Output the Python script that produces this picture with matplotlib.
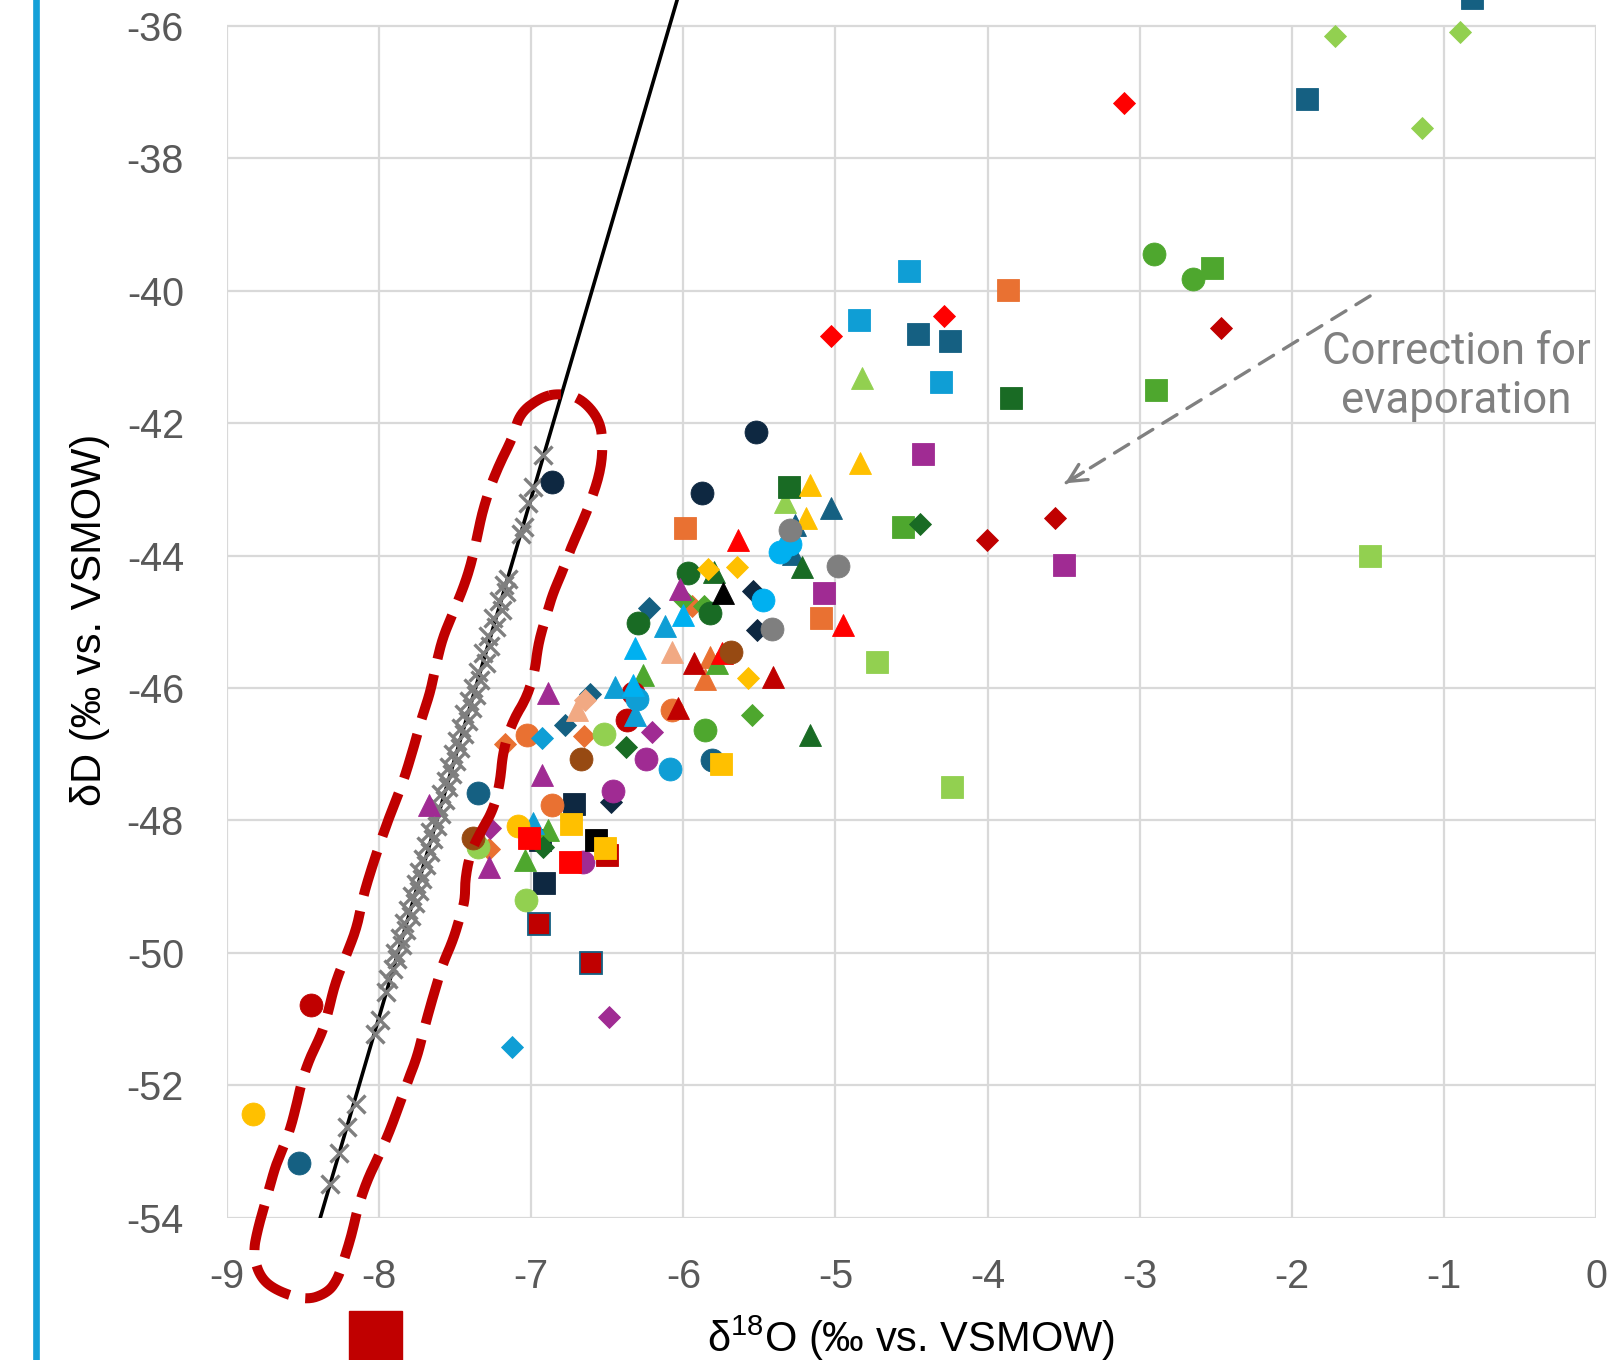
import numpy as np
import matplotlib
matplotlib.use("Agg")
import matplotlib.pyplot as plt
from matplotlib.patches import Rectangle
from matplotlib.lines import Line2D

plt.rcParams['font.family'] = ['Liberation Sans', 'DejaVu Sans']
plt.rcParams['axes.unicode_minus'] = False
plt.rcParams['mathtext.fontset'] = 'custom'
plt.rcParams['mathtext.rm'] = 'Liberation Sans'

# ---------------- axis ticks ----------------
x_ticks = [-9, -8, -7, -6, -5, -4, -3, -2, -1, 0]
y_ticks = [-54, -52, -50, -48, -46, -44, -42, -40, -38, -36]
x_label = r'δ$\mathregular{^{18}}$O (‰ vs. VSMOW)'
y_label = 'δD (‰ vs. VSMOW)'

# ---------------- local meteoric water line ----------------
lmwl_slope = 7.84
lmwl_intercept = 11.75
lmwl_dD_range = [-54.0, -35.0]

# ---------------- precipitation samples (grey crosses) ----------------
precip_d18o = [-8.323, -8.262, -8.211, -8.150, -8.029, -7.994,
               -7.955, -7.940, -7.910, -7.880, -7.895, -7.850, -7.865, -7.820, -7.838, -7.792,
               -7.810, -7.765, -7.785, -7.740, -7.755, -7.720, -7.735, -7.690, -7.710, -7.668,
               -7.690, -7.645, -7.665, -7.620, -7.640, -7.596, -7.615, -7.570, -7.590, -7.545,
               -7.560, -7.520, -7.540, -7.495, -7.515, -7.468, -7.490, -7.443, -7.462, -7.417,
               -7.440, -7.392, -7.412, -7.366, -7.385, -7.335, -7.350, -7.300, -7.318, -7.268,
               -7.285, -7.232, -7.250, -7.195, -7.215, -7.168, -7.180, -7.155,
               -7.065, -7.050, -7.020, -6.990, -6.920]
precip_dD = [-53.50, -53.03, -52.63, -52.29, -51.22, -51.02,
             -50.60, -50.40, -50.25, -50.10, -50.00, -49.88, -49.78, -49.65, -49.55, -49.45,
             -49.35, -49.25, -49.15, -49.06, -48.96, -48.88, -48.78, -48.68, -48.58, -48.48,
             -48.38, -48.28, -48.18, -48.08, -47.98, -47.90, -47.80, -47.70, -47.60, -47.50,
             -47.40, -47.30, -47.20, -47.10, -47.00, -46.90, -46.80, -46.70, -46.60, -46.50,
             -46.40, -46.30, -46.20, -46.10, -46.00, -45.88, -45.76, -45.62, -45.48, -45.36,
             -45.22, -45.08, -44.95, -44.82, -44.68, -44.55, -44.45, -44.35,
             -43.68, -43.57, -43.21, -42.96, -42.48]

# ---------------- water samples (d18O, dD) ----------------
navy_circles = ([-5.524, -5.875, -6.865], [-42.13, -43.06, -42.89])
navy_squares = ([-6.719, -6.942, -6.916], [-47.76, -48.29, -48.95])
navy_diamonds = ([-5.540, -5.518, -6.477], [-44.53, -45.12, -47.73])

teal_circles = ([-5.813, -7.348, -8.525], [-47.09, -47.58, -53.18])
teal_squares = ([-0.816, -1.901, -4.455, -4.245], [-35.58, -37.10, -40.66, -40.76])
teal_triangles = ([-5.029, -5.266, -5.277], [-43.29, -43.54, -43.97])
teal_diamonds = ([-6.226, -6.613, -6.778], [-44.80, -46.09, -46.56])

orange_squares = ([-3.865, -5.989, -5.095], [-39.99, -43.58, -44.95])
orange_circles = ([-6.076, -7.030, -6.865], [-46.34, -46.71, -47.77])
orange_diamonds = ([-5.945, -6.651, -7.172, -7.276], [-44.77, -46.73, -46.84, -48.44])
orange_triangles = ([-5.824, -5.857], [-45.53, -45.86])

green_circles = ([-2.905, -2.647, -5.857], [-39.44, -39.82, -46.64])
green_squares = ([-2.522, -2.892, -4.558], [-39.66, -41.50, -43.57])
green_triangles = ([-5.780, -6.263, -6.887, -7.041], [-45.63, -45.81, -48.15, -48.60])
green_diamonds = ([-6.000, -5.862, -5.546], [-44.66, -44.76, -46.41])

lightgreen_diamonds = ([-1.715, -0.896, -1.145], [-36.15, -36.09, -37.54])
lightgreen_squares = ([-4.729, -4.235, -1.483], [-45.61, -47.49, -44.00])
lightgreen_triangles = ([-4.827, -5.331], [-41.32, -43.19])
lightgreen_circles = ([-6.519, -7.036, -7.348], [-46.69, -49.21, -48.40])

darkgreen_squares = ([-3.845, -5.305], [-41.62, -42.96])
darkgreen_triangles = ([-5.222, -5.798, -5.167], [-44.17, -44.25, -46.71])
darkgreen_diamonds = ([-4.444, -6.377, -6.924], [-43.52, -46.89, -48.40])
darkgreen_circles = ([-5.971, -5.824, -6.296], [-44.27, -44.87, -45.02])

red_diamonds = ([-3.104, -4.286, -5.029], [-37.17, -40.38, -40.69])
red_triangles = ([-5.638, -4.948, -5.748], [-43.77, -45.05, -45.48])
red_squares = ([-7.014, -6.745], [-48.26, -48.63])

darkred_diamonds = ([-2.465, -4.005, -3.556], [-40.56, -43.77, -43.43])
darkred_triangles = ([-5.930, -5.408, -6.033], [-45.63, -45.83, -46.31])
darkred_circles = ([-6.329, -6.372, -8.450], [-46.08, -46.49, -50.79])
darkred_squares = ([-6.504], [-48.52])
darkred_squares_edged = ([-6.947, -6.607], [-49.57, -50.15])

skyblue_squares = ([-4.514, -4.845, -4.304], [-39.70, -40.45, -41.38])
skyblue_triangles = ([-6.120, -6.449, -6.318, -6.990], [-45.07, -45.98, -46.41, -48.04])
skyblue_circles = ([-6.302, -6.087], [-46.16, -47.23])
skyblue_diamonds = ([-6.931, -7.128], [-46.76, -51.42])

brightblue_circles = ([-5.298, -5.364, -5.474], [-43.82, -43.94, -44.67])
brightblue_triangles = ([-6.004, -6.318, -6.329], [-44.90, -45.40, -45.96])

yellow_triangles = ([-4.836, -5.167, -5.195], [-42.61, -42.94, -43.44])
yellow_diamonds = ([-5.840, -5.649, -5.577], [-44.21, -44.17, -45.85])
yellow_circles = ([-7.085, -8.831], [-48.09, -52.43])
yellow_squares = ([-5.754, -6.738, -6.517], [-47.15, -48.06, -48.42])

purple_squares = ([-4.426, -5.075, -3.495], [-42.47, -44.57, -44.15])
purple_triangles = ([-6.022, -6.887, -6.931, -7.670, -7.276], [-44.50, -46.08, -47.32, -47.77, -48.70])
purple_diamonds = ([-6.208, -7.271, -6.490], [-46.66, -48.12, -50.97])
purple_circles = ([-6.245, -6.460, -6.657], [-47.08, -47.55, -48.63])

gray_circles = ([-5.298, -4.985, -5.419], [-43.62, -44.16, -45.11])
black_triangles = ([-5.737], [-44.57])
black_squares = ([-6.576], [-48.30])
brown_circles = ([-5.686, -6.675, -7.381], [-45.46, -47.08, -48.27])
peach_triangles = ([-6.076, -6.701], [-45.45, -46.34])
peach_diamonds = ([-6.646], [-46.18])

# ---------------- annotation: outline around precipitation (d18O, dD) ----------------
outline_d18o = [-6.830, -6.942, -7.074, -7.120, -7.205, -7.271, -7.323, -7.350, -7.389, -7.435,
                -7.514, -7.580, -7.619, -7.665, -7.711, -7.764, -7.843, -7.909, -7.994, -8.060,
                -8.106, -8.145, -8.211, -8.290, -8.336, -8.375, -8.454, -8.507, -8.540, -8.586,
                -8.638, -8.684, -8.730, -8.796, -8.829, -8.783, -8.678, -8.481, -8.343, -8.277,
                -8.231, -8.178, -8.145, -8.080, -7.994, -7.928, -7.863, -7.817, -7.751, -7.711,
                -7.665, -7.619, -7.580, -7.514, -7.468, -7.435, -7.435, -7.402, -7.337, -7.251,
                -7.205, -7.185, -7.120, -7.028, -6.975, -6.962, -6.942, -6.896, -6.857, -6.791,
                -6.745, -6.666, -6.613, -6.548, -6.528, -6.548, -6.679, -6.830]
outline_dD = [-41.55, -41.62, -41.85, -42.21, -42.60, -42.97, -43.36, -43.66, -44.07, -44.42,
              -44.87, -45.23, -45.58, -46.08, -46.38, -46.83, -47.43, -47.80, -48.34, -48.80,
              -49.16, -49.61, -50.01, -50.46, -50.91, -51.21, -51.58, -51.93, -52.27, -52.68,
              -52.98, -53.24, -53.63, -54.15, -54.54, -54.90, -55.10, -55.25, -55.14, -54.95,
              -54.64, -54.24, -53.89, -53.44, -53.03, -52.68, -52.27, -51.97, -51.58, -51.21,
              -50.82, -50.46, -50.16, -49.81, -49.46, -49.20, -48.90, -48.50, -48.19, -47.85,
              -47.44, -46.94, -46.49, -46.14, -45.73, -45.47, -45.23, -44.87, -44.57, -44.22,
              -43.92, -43.51, -43.21, -42.76, -42.36, -41.95, -41.61, -41.55]

evap_arrow_start = (-1.485, -40.08)
evap_arrow_end = (-3.490, -42.91)
evap_text = 'Correction for\nevaporation'
evap_text_pos = (-0.92, -41.30)

# ---------------- colours ----------------
C_NAVY = '#0E2841'
C_TEAL = '#156082'
C_ORANGE = '#E97132'
C_GREEN = '#4EA72E'
C_LGREEN = '#92D050'
C_DGREEN = '#196B24'
C_RED = '#FF0000'
C_DRED = '#C00000'
C_SKY = '#0F9ED5'
C_BBLUE = '#00B0F0'
C_YELLOW = '#FFC000'
C_PURPLE = '#A02B93'
C_GRAY = '#7F7F7F'
C_BLACK = '#000000'
C_BROWN = '#974A12'
C_PEACH = '#F1A983'

series = [
    (navy_circles, C_NAVY, 'o'), (navy_squares, C_NAVY, 's'), (navy_diamonds, C_NAVY, 'D'),
    (teal_circles, C_TEAL, 'o'), (teal_squares, C_TEAL, 's'), (teal_triangles, C_TEAL, '^'),
    (teal_diamonds, C_TEAL, 'D'),
    (orange_squares, C_ORANGE, 's'), (orange_circles, C_ORANGE, 'o'), (orange_diamonds, C_ORANGE, 'D'),
    (orange_triangles, C_ORANGE, '^'),
    (green_circles, C_GREEN, 'o'), (green_squares, C_GREEN, 's'), (green_triangles, C_GREEN, '^'),
    (green_diamonds, C_GREEN, 'D'),
    (lightgreen_diamonds, C_LGREEN, 'D'), (lightgreen_squares, C_LGREEN, 's'),
    (lightgreen_triangles, C_LGREEN, '^'), (lightgreen_circles, C_LGREEN, 'o'),
    (darkgreen_squares, C_DGREEN, 's'), (darkgreen_triangles, C_DGREEN, '^'),
    (darkgreen_diamonds, C_DGREEN, 'D'), (darkgreen_circles, C_DGREEN, 'o'),
    (red_diamonds, C_RED, 'D'), (red_triangles, C_RED, '^'),
    (darkred_diamonds, C_DRED, 'D'), (darkred_triangles, C_DRED, '^'), (darkred_circles, C_DRED, 'o'),
    (skyblue_squares, C_SKY, 's'), (skyblue_triangles, C_SKY, '^'), (skyblue_circles, C_SKY, 'o'),
    (skyblue_diamonds, C_SKY, 'D'),
    (brightblue_circles, C_BBLUE, 'o'), (brightblue_triangles, C_BBLUE, '^'),
    (yellow_triangles, C_YELLOW, '^'), (yellow_diamonds, C_YELLOW, 'D'), (yellow_circles, C_YELLOW, 'o'),
    (purple_squares, C_PURPLE, 's'), (purple_triangles, C_PURPLE, '^'), (purple_diamonds, C_PURPLE, 'D'),
    (purple_circles, C_PURPLE, 'o'),
    (gray_circles, C_GRAY, 'o'), (black_triangles, C_BLACK, '^'), (black_squares, C_BLACK, 's'),
    (brown_circles, C_BROWN, 'o'), (peach_triangles, C_PEACH, '^'), (peach_diamonds, C_PEACH, 'D'),
    (darkred_squares, C_DRED, 's'), (yellow_squares, C_YELLOW, 's'), (red_squares, C_RED, 's'),
]
marker_sizes = {'o': 16.5, 's': 16.0, '^': 16.5, 'D': 11.2}


def chaikin(xs, ys, n_iter=3):
    """Corner-cutting smoothing of a closed hand-drawn outline (drawing only)."""
    p = np.column_stack([xs, ys])[:-1]
    for _ in range(n_iter):
        q = np.roll(p, -1, axis=0)
        p = np.vstack([np.column_stack([0.75 * p[:, 0] + 0.25 * q[:, 0], 0.75 * p[:, 1] + 0.25 * q[:, 1]]),
                       np.column_stack([0.25 * p[:, 0] + 0.75 * q[:, 0], 0.25 * p[:, 1] + 0.75 * q[:, 1]])])
        n = len(p) // 2
        inter = np.empty_like(p)
        inter[0::2] = p[:n]
        inter[1::2] = p[n:]
        p = inter
    p = np.vstack([p, p[:1]])
    return p[:, 0], p[:, 1]


# ---------------- figure ----------------
W, H = 1618, 1360
fig = plt.figure(figsize=(W / 100, H / 100), dpi=100)
ax_left, ax_right = 227 / W, 1596 / W
ax_bottom = 1 - 1217.6 / H
ax = fig.add_axes([ax_left, ax_bottom, ax_right - ax_left, 1 - ax_bottom])
ax.set_xlim(-9, 0)
ax.set_ylim(-54, -35.61)
for s in ax.spines.values():
    s.set_visible(False)

grid_c = '#D9D9D9'
ax.hlines(y_ticks, x_ticks[0], x_ticks[-1], colors=grid_c, lw=1.6, zorder=0)
ax.vlines(x_ticks, y_ticks[0], y_ticks[-1], colors=grid_c, lw=1.6, zorder=0)

ax.set_xticks(x_ticks)
ax.set_xticklabels([str(v) for v in x_ticks])
ax.set_yticks(y_ticks)
ax.set_yticklabels([str(v) for v in y_ticks])
ax.tick_params(axis='both', length=0, labelsize=28.5, labelcolor='#595959')
ax.tick_params(axis='x', pad=29)
ax.tick_params(axis='y', pad=31)

# LMWL line
lx = [(v - lmwl_intercept) / lmwl_slope for v in lmwl_dD_range]
ax.plot(lx, lmwl_dD_range, color='black', lw=2.6, zorder=3)

# precipitation crosses
ax.plot(precip_d18o, precip_dD, linestyle='none', marker='x', ms=13.5, mew=2.4,
        color='#7F7F7F', zorder=4)

# water samples
for (xs, ys), col, mk in series:
    ax.plot(xs, ys, linestyle='none', marker=mk, ms=marker_sizes[mk], mfc=col,
            mec=col, mew=0.6, zorder=5)
# teal-edged dark red squares
ax.plot(darkred_squares_edged[0], darkred_squares_edged[1], linestyle='none', marker='s',
        ms=marker_sizes['s'], mfc=C_DRED, mec=C_TEAL, mew=1.3, zorder=5)

# outline (smoothed for drawing)
ox, oy = chaikin(outline_d18o, outline_dD)
ax.plot(ox, oy, color=C_DRED, lw=7.2, linestyle=(0, (4.6, 1.6)),
        solid_joinstyle='round', zorder=8, clip_on=False)

# evaporation arrow
ax.plot([evap_arrow_start[0], evap_arrow_end[0]], [evap_arrow_start[1], evap_arrow_end[1]],
        color='#808080', lw=2.4, linestyle=(0, (5, 3.5)), dash_capstyle='round', zorder=6)
ax.annotate('', xy=evap_arrow_end,
            xytext=(evap_arrow_end[0] + 0.12, evap_arrow_end[1] + 0.17),
            arrowprops=dict(arrowstyle='->', color='#808080', lw=2.4, mutation_scale=32,
                            shrinkA=0, shrinkB=0), zorder=6)
ax.text(evap_text_pos[0], evap_text_pos[1], evap_text, ha='center', va='center',
        multialignment='center', fontsize=31.5, color='#808080', family=['Roboto', 'DejaVu Sans'],
        linespacing=1.22, zorder=7)

# axis titles
fig.text(911 / W, 1 - 1338 / H, x_label, ha='center', va='center', fontsize=30, color='black')
fig.text(90 / W, 1 - 620 / H, y_label, ha='center', va='center', rotation=90, fontsize=30,
         color='black')

# decorations outside plot
fig.add_artist(Line2D([36 / W, 36 / W], [0, 1], color='#14A0D8', lw=4.8, transform=fig.transFigure))
fig.add_artist(Rectangle((348.8 / W, 0), 53.6 / W, 49.5 / H, color=C_DRED, transform=fig.transFigure))

fig.savefig('out.png', dpi=100)
